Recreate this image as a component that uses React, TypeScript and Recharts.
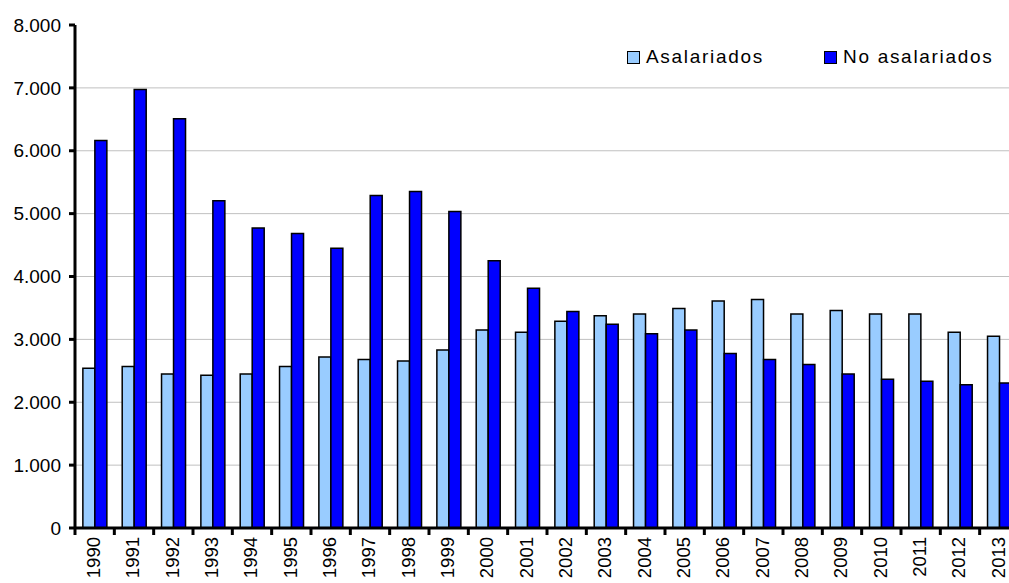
import React from 'react';
import { BarChart, Bar, XAxis, YAxis, CartesianGrid, Legend } from 'recharts';

const years = ['1990','1991','1992','1993','1994','1995','1996','1997','1998','1999','2000','2001','2002','2003','2004','2005','2006','2007','2008','2009','2010','2011','2012','2013'];
const asalariados = [2540, 2570, 2450, 2430, 2450, 2570, 2720, 2680, 2655, 2830, 3150, 3115, 3290, 3375, 3405, 3490, 3610, 3635, 3405, 3460, 3405, 3405, 3115, 3050];
const noAsalariados = [6165, 6975, 6510, 5205, 4770, 4685, 4450, 5290, 5350, 5035, 4250, 3815, 3445, 3240, 3090, 3150, 2775, 2680, 2600, 2450, 2365, 2335, 2280, 2305];
const yTicks = [0, 1000, 2000, 3000, 4000, 5000, 6000, 7000, 8000];
const gridValues = [1000, 2000, 3000, 4000, 5000, 6000, 7000];
const seriesNames = ['Asalariados', 'No asalariados'];

const data = years.map((y, i) => ({ year: y, a: asalariados[i], n: noAsalariados[i] }));

const CHART_W = 1019;
const CHART_H = 583;
const Y_AXIS_W = 75;
const PLOT_W = CHART_W - Y_AXIS_W;
const BAND = PLOT_W / years.length;
const FONT = '"Liberation Sans", Arial, sans-serif';

const fmt = (v: number) => {
  const s = String(Math.round(v));
  return s.replace(/\B(?=(\d{3})+(?!\d))/g, '.');
};

const XTick = (props: any) => {
  const { x, y, payload } = props;
  const bx = x - BAND / 2;
  return (
    <g>
      <line x1={bx} x2={bx} y1={y - 8} y2={y - 1} stroke="#000" strokeWidth={3} />
      <text
        x={x - 1}
        y={y + 1}
        transform={`rotate(-90 ${x - 1} ${y + 1})`}
        textAnchor="end"
        dy="0.35em"
        fontSize={18.5}
        fontFamily={FONT}
        fill="#000"
      >
        {payload.value}
      </text>
    </g>
  );
};

const colors = ['#99ccff', '#0000ff'];

const LegendContent = () => (
  <div style={{ display: 'flex', fontFamily: FONT, fontSize: 19, color: '#000' }}>
    {seriesNames.map((name, i) => (
      <div key={name} style={{ display: 'flex', alignItems: 'center', marginRight: i === 0 ? 60 : 0 }}>
        <div
          style={{
            width: 11,
            height: 11,
            background: colors[i],
            border: '1.5px solid #000',
            marginRight: 6,
          }}
        />
        <span style={{ letterSpacing: 1.7, lineHeight: '20px' }}>{name}</span>
      </div>
    ))}
  </div>
);

export default function App() {
  return (
    <div style={{ position: 'absolute', left: 0, top: 0, width: 1009, height: 583, overflow: 'hidden', background: '#fff' }}>
      <BarChart
        width={CHART_W}
        height={CHART_H}
        data={data}
        margin={{ top: 25, right: 0, left: 0, bottom: 0 }}
        barCategoryGap="20%"
        barGap={0}
      >
        <CartesianGrid vertical={false} horizontalValues={gridValues} stroke="#c0c0c0" strokeWidth={1} />
        <XAxis
          dataKey="year"
          interval={0}
          height={55}
          tick={<XTick />}
          tickLine={false}
          axisLine={{ stroke: '#000', strokeWidth: 3 }}
        />
        <YAxis
          width={Y_AXIS_W}
          domain={[0, 8000]}
          ticks={yTicks}
          tickFormatter={fmt}
          tickSize={6}
          tickMargin={8}
          tick={{ fontSize: 19, fontFamily: FONT, fill: '#000' }}
          tickLine={{ stroke: '#000', strokeWidth: 3 }}
          axisLine={{ stroke: '#000', strokeWidth: 3 }}
          interval={0}
        />
        <Legend
          layout="horizontal"
          verticalAlign="middle"
          align="center"
          content={<LegendContent />}
          wrapperStyle={{ top: 47, left: 627, width: 'auto', height: 'auto' }}
        />
        <Bar dataKey="a" name={seriesNames[0]} fill={colors[0]} stroke="#000" strokeWidth={1.5} isAnimationActive={false} />
        <Bar dataKey="n" name={seriesNames[1]} fill={colors[1]} stroke="#000" strokeWidth={1.5} isAnimationActive={false} />
      </BarChart>
    </div>
  );
}
